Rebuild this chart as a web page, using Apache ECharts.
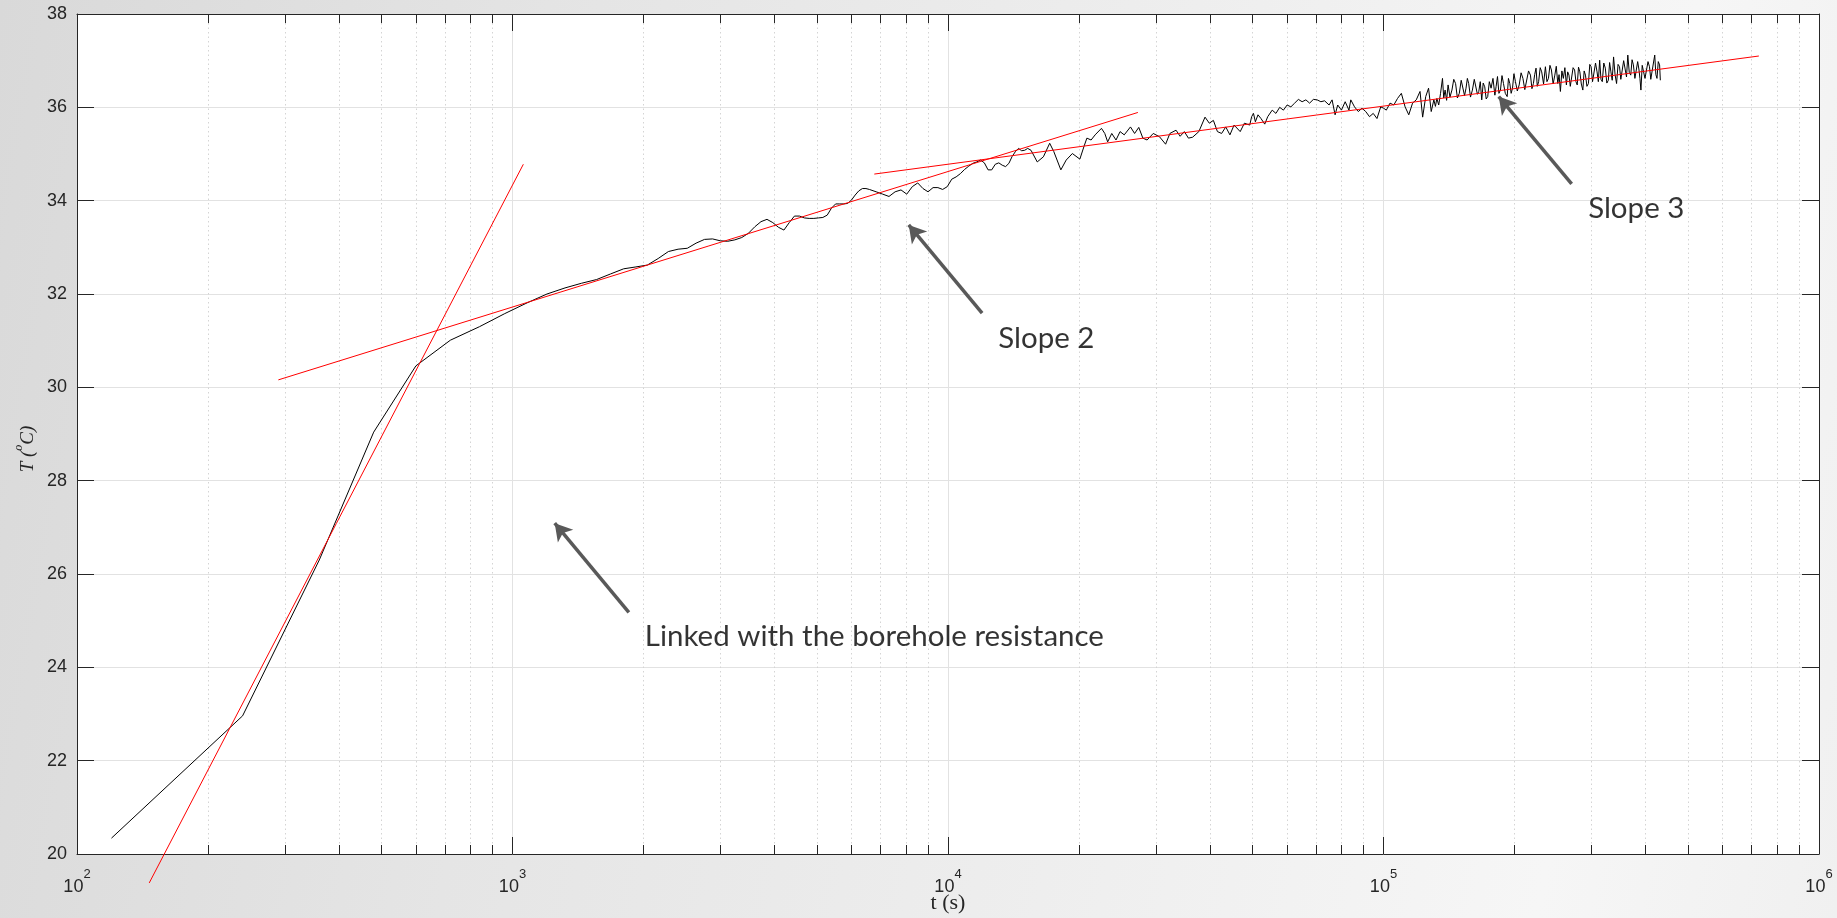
<!DOCTYPE html>
<html>
<head>
<meta charset="utf-8">
<title>Borehole temperature response</title>
<script src="https://cdn.jsdelivr.net/npm/echarts@6/dist/echarts.min.js"></script>
<style>
  html, body { margin: 0; padding: 0; width: 100%; height: 100%; overflow: hidden; }
  body { background: linear-gradient(100deg, #d9d9d9 0%, #e5e5e5 30%, #eeeeee 60%, #f6f6f6 85%, #f0f0f0 100%); }
  #chart { width: 1837px; height: 918px; }
</style>
</head>
<body>
<div id="chart"></div>
<script>
// Measured fluid temperature T (°C) against elapsed time t (s)
const earlyPhase = [
  [120,20.34],[240,22.96],[360,26.30],[480,29.04],[600,30.46],[720,31.01],[840,31.30],[960,31.58],
  [1080,31.81],[1200,32.00],[1320,32.13],[1440,32.23],[1560,32.31],[1680,32.43],[1800,32.54],[1920,32.58],
  [2040,32.62],[2160,32.76],[2280,32.91],[2400,32.96],[2520,32.98],[2640,33.09],[2760,33.17],[2880,33.18],
  [3000,33.14],[3120,33.13],[3240,33.16],[3360,33.21],[3480,33.30],[3600,33.44],[3720,33.55],[3840,33.60],
  [3960,33.53],[4080,33.43],[4200,33.37],[4320,33.53],[4440,33.67],[4560,33.67],[4680,33.63],[4800,33.62],
  [4920,33.62],[5040,33.63],[5160,33.64],[5280,33.69],[5400,33.84],[5520,33.93],[5640,33.93],[5760,33.93],
  [5880,33.94],[6000,34.01],[6120,34.12],[6240,34.21],[6360,34.26],[6480,34.26],[6600,34.24]
];
const midPhase = [
  [6840,34.19],[7080,34.14],[7320,34.09],[7560,34.19],[7800,34.23],[8040,34.14],[8280,34.30],[8520,34.38],
  [8760,34.26],[9000,34.19],[9240,34.28],[9480,34.28],[9720,34.24],[9960,34.30],[10200,34.46],[10440,34.51],
  [10680,34.58],[10920,34.67],[11160,34.74],[11400,34.80],[11640,34.83],[11880,34.87],[12120,34.81],[12360,34.66],
  [12600,34.66],[12840,34.78],[13080,34.81],[13320,34.76],[13560,34.73],[13800,34.80],[14040,34.95],[14280,35.05],
  [14520,35.12],[14760,35.07],[15000,35.08],[15240,35.12],[15510,35.08],[16030,34.83],[16560,34.94],[17120,35.23],
  [17500,35.05],[18160,34.66],[18680,34.87],[19300,35.01],[20080,34.89],[20520,35.16],[20840,35.34],[21310,35.30],
  [21770,35.41],[22510,35.55],[22910,35.44],[23260,35.26],[23770,35.44],[24310,35.30],[24840,35.48],[25390,35.41],
  [26240,35.58],[26820,35.44],[27420,35.57],[28020,35.34],[28650,35.30],[29600,35.44],[30590,35.37],[31600,35.21],
  [32320,35.44],[33390,35.51],[34120,35.38],[34890,35.48],[35650,35.34],[36450,35.36],[37670,35.48],[38920,35.79],
  [39810,35.66],[40680,35.72],[41560,35.48],[42490,35.44],[43430,35.58],[44400,35.41],[45380,35.62],[46880,35.48],
  [47930,35.66],[49300,35.62]
];
const latePhase = [
  [49800,35.80],[50290,35.87],[50790,35.69],[51500,35.84],[52320,35.76],[53370,35.64],[54220,35.80],[55520,35.94],
  [56620,35.87],[57760,36.00],[58910,35.94],[60080,36.05],[61280,36.01],[62510,36.09],[63760,36.17],[65040,36.12],
  [66340,36.16],[67660,36.09],[69020,36.17],[70400,36.16],[71810,36.12],[73240,36.14],[74990,36.05],[76200,36.16],
  [77420,35.84],[78490,36.05],[80060,35.94],[81660,36.12],[83300,35.94],[84120,36.16],[85800,36.01],[87520,35.91],
  [89240,35.98],[91030,35.91],[92850,35.80],[94710,35.87],[96610,35.76],[98540,36.01],[100100,35.98],[101500,35.94],
  [103500,36.09],[105600,36.05],[107700,36.19],[109900,36.30],[112100,36.01],[114300,35.84],[116600,36.09],[118900,36.16],
  [121300,36.34],[123000,35.79],[125000,36.23],[126900,36.41],[128700,35.91],[130500,36.16],[131600,36.02],[132600,36.19],
  [133900,36.05],[135200,36.30],[136600,36.62],[137500,36.20],[138500,36.37],[139600,36.15],[140700,36.48],[142100,36.22],
  [143600,36.37],[145000,36.60],[146400,36.51],[147800,36.20],[149300,36.30],[150800,36.58],[152300,36.55],[153500,36.25],
  [154700,36.41],[155800,36.62],[156900,36.51],[158400,36.22],[160000,36.37],[161600,36.60],[163200,36.58],[164300,36.28],
  [165500,36.34],[166800,36.55],[168100,36.16],[169400,36.52],[170800,36.44],[172100,36.18],[173500,36.23],[175000,36.55],
  [176600,36.41],[178400,36.62],[180200,36.26],[181400,36.45],[182700,36.66],[184100,36.30],[185600,36.37],[187100,36.68],
  [188600,36.51],[190400,36.30],[192300,36.23],[193600,36.62],[195000,36.51],[196400,36.30],[197800,36.41],[199300,36.72],
  [200900,36.55],[202900,36.35],[204900,36.48],[207000,36.74],[209000,36.62],[211100,36.38],[213200,36.41],[215300,36.78],
  [217500,36.69],[219200,36.40],[220900,36.51],[222400,36.70],[224000,36.84],[225500,36.45],[227100,36.55],[229000,36.85],
  [230800,36.76],[233100,36.50],[235400,36.87],[237300,36.55],[239200,36.62],[241100,36.90],[243000,36.80],[245200,36.50],
  [247400,36.69],[249300,36.88],[251300,36.51],[253000,36.70],[254800,36.34],[256800,36.78],[258800,36.62],[260900,36.85],
  [263000,36.48],[264800,36.76],[266600,36.69],[268500,36.45],[270400,36.41],[272500,36.85],[274700,36.80],[276600,36.55],
  [278500,36.48],[280400,36.86],[282400,36.76],[284600,36.50],[286900,36.37],[288900,36.78],[290900,36.69],[293200,36.45],
  [295500,36.51],[297600,36.92],[299700,36.87],[302000,36.55],[304400,36.58],[306800,36.95],[309300,36.76],[311400,36.55],
  [313600,37.01],[315800,36.60],[318000,36.55],[320500,36.95],[323100,36.84],[325700,36.52],[328300,36.58],[330500,36.96],
  [332800,36.76],[335100,36.58],[337500,37.08],[340200,36.70],[342900,36.51],[345600,36.92],[348300,36.87],[350700,36.60],
  [353200,36.62],[356000,37.00],[358900,36.98],[361400,36.65],[363900,37.12],[366700,36.75],[369600,36.69],[372200,37.02],
  [374800,36.91],[377800,36.62],[380800,36.58],[383400,36.98],[386100,36.80],[388000,36.62],[390000,36.37],[392700,36.90],
  [395400,36.94],[398500,36.62],[401700,36.66],[404900,36.98],[408100,36.87],[410900,36.60],[413800,36.58],[416700,36.95],
  [419600,37.12],[422100,36.70],[424600,36.62],[427500,36.98],[430500,36.91],[432200,36.58]
];

// Straight-line fits in semi-log space (end points of each segment)
const fitSteep = [[146.5,19.38],[1059,34.78]];
const fitMid = [[290,30.16],[27290,35.89]];
const fitLate = [[6773,34.57],[727600,37.10]];

// Minor decade ticks 2..9 x 10^k
const minorTicks = [
  200,300,400,500,600,700,800,900,
  2000,3000,4000,5000,6000,7000,8000,9000,
  20000,30000,40000,50000,60000,70000,80000,90000,
  200000,300000,400000,500000,600000,700000,800000,900000
];
const tempTicks = [20,22,24,26,28,30,32,34,36,38];

// Callouts: arrow head, arrow tail, and text anchors in (t, T)
const arrowHeads = [[1250,27.09],[8124,33.48],[183900,36.23]];
const arrowTails = [[1850,25.18],[11976,31.59],[270400,34.36]];
const noteAnchors = [[2007,24.67],[13010,31.05],[294300,33.83]];
const noteTexts = ['Linked with the borehole resistance','Slope 2','Slope 3'];

const measured = earlyPhase.concat(midPhase, latePhase);

const axisColor = '#262626';
const tickFont = 'Liberation Sans';

const chart = echarts.init(document.getElementById('chart'), null, { renderer: 'canvas' });

const logAxisBase = {
  type: 'log', logBase: 10, min: 100, max: 1000000, gridIndex: 0
};

const option = {
  backgroundColor: 'transparent',
  animation: false,
  grid: {
    left: 77, right: 18, top: 14, bottom: 64,
    containLabel: false,
    outerBoundsMode: 'none',
    show: true, backgroundColor: '#ffffff', borderWidth: 0
  },
  xAxis: [
    Object.assign({}, logAxisBase, {
      position: 'bottom',
      axisLine: { show: true, lineStyle: { color: axisColor, width: 1 } },
      axisTick: { show: true, inside: true, length: 17, lineStyle: { color: axisColor, width: 1 } },
      splitLine: { show: true, lineStyle: { color: '#e2e2e2', width: 1 } },
      axisLabel: {
        margin: 14,
        formatter: function (v) {
          return '{b|10}{s|' + Math.round(Math.log10(v)) + '}';
        },
        rich: {
          b: { fontFamily: tickFont, fontSize: 18, color: axisColor, lineHeight: 28, verticalAlign: 'bottom' },
          s: { fontFamily: tickFont, fontSize: 13, color: axisColor, lineHeight: 14, verticalAlign: 'top' }
        }
      },
      name: 't (s)',
      nameLocation: 'middle',
      nameGap: 38,
      nameMoveOverlap: false,
      nameTextStyle: { fontFamily: 'Liberation Serif', fontSize: 22, color: axisColor }
    }),
    Object.assign({}, logAxisBase, {
      position: 'bottom',
      axisLine: { show: false },
      axisTick: { show: true, inside: true, length: 9, customValues: minorTicks, lineStyle: { color: axisColor, width: 1 } },
      splitLine: { show: true, lineStyle: { color: '#d4d4d4', width: 1, type: [1.5, 3] } },
      axisLabel: { show: false }
    }),
    Object.assign({}, logAxisBase, {
      position: 'top',
      axisLine: { show: true, lineStyle: { color: axisColor, width: 1 } },
      axisTick: { show: true, inside: true, length: 17, lineStyle: { color: axisColor, width: 1 } },
      splitLine: { show: false },
      axisLabel: { show: false }
    }),
    Object.assign({}, logAxisBase, {
      position: 'top',
      axisLine: { show: false },
      axisTick: { show: true, inside: true, length: 9, customValues: minorTicks, lineStyle: { color: axisColor, width: 1 } },
      splitLine: { show: false },
      axisLabel: { show: false }
    })
  ],
  yAxis: [
    {
      type: 'value', position: 'left', min: 20, max: 38, interval: 2,
      axisLine: { show: true, lineStyle: { color: axisColor, width: 1 } },
      axisTick: { show: true, inside: true, length: 17, customValues: tempTicks, lineStyle: { color: axisColor, width: 1 } },
      splitLine: { show: true, lineStyle: { color: '#e2e2e2', width: 1 } },
      axisLabel: { margin: 10, fontFamily: tickFont, fontSize: 18, color: axisColor },
      name: '{n|T (}{sup|o}{n|C)}',
      nameLocation: 'middle',
      nameGap: 40,
      nameRotate: 90,
      nameMoveOverlap: false,
      nameTextStyle: {
        color: axisColor,
        padding: [0, 30, 0, 0],
        rich: {
          n: { fontFamily: 'Liberation Serif', fontStyle: 'italic', fontSize: 19, color: axisColor, lineHeight: 24, verticalAlign: 'bottom' },
          sup: { fontFamily: 'Liberation Serif', fontStyle: 'italic', fontSize: 12, color: axisColor, lineHeight: 14, verticalAlign: 'top' }
        }
      }
    },
    {
      type: 'value', position: 'right', min: 20, max: 38, interval: 2,
      axisLine: { show: true, lineStyle: { color: axisColor, width: 1 } },
      axisTick: { show: true, inside: true, length: 17, lineStyle: { color: axisColor, width: 1 } },
      splitLine: { show: false },
      axisLabel: { show: false }
    }
  ],
  series: [
    {
      name: 'measured', type: 'line', data: measured, xAxisIndex: 0, yAxisIndex: 0,
      showSymbol: false, symbol: 'none', silent: true,
      lineStyle: { color: '#000000', width: 1 }, z: 3
    },
    {
      name: 'fit steep', type: 'line', data: fitSteep, xAxisIndex: 0, yAxisIndex: 0,
      showSymbol: false, symbol: 'none', silent: true, clip: false,
      lineStyle: { color: '#ff0000', width: 1 }, z: 4
    },
    {
      name: 'fit mid', type: 'line', data: fitMid, xAxisIndex: 0, yAxisIndex: 0,
      showSymbol: false, symbol: 'none', silent: true, clip: false,
      lineStyle: { color: '#ff0000', width: 1 }, z: 4
    },
    {
      name: 'fit late', type: 'line', data: fitLate, xAxisIndex: 0, yAxisIndex: 0,
      showSymbol: false, symbol: 'none', silent: true, clip: false,
      lineStyle: { color: '#ff0000', width: 1 }, z: 4
    },
    {
      name: 'callouts', type: 'scatter', xAxisIndex: 0, yAxisIndex: 0,
      symbolSize: 1, silent: true, z: 6,
      itemStyle: { color: 'rgba(0,0,0,0)' },
      data: noteAnchors.map(function (p, i) { return { name: noteTexts[i], value: p }; }),
      label: {
        show: true, position: 'right', distance: 0, formatter: '{b}',
        fontFamily: 'Lato', fontSize: 29.5, color: '#000000'
      },
      markLine: {
        silent: true,
        symbol: ['arrow', 'none'],
        symbolSize: [15, 17],
        label: { show: false },
        lineStyle: { color: '#595959', width: 3.5, type: 'solid' },
        emphasis: { disabled: true },
        data: arrowHeads.map(function (h, i) {
          return [{ coord: h }, { coord: arrowTails[i] }];
        })
      }
    }
  ]
};

chart.setOption(option);
</script>
</body>
</html>
